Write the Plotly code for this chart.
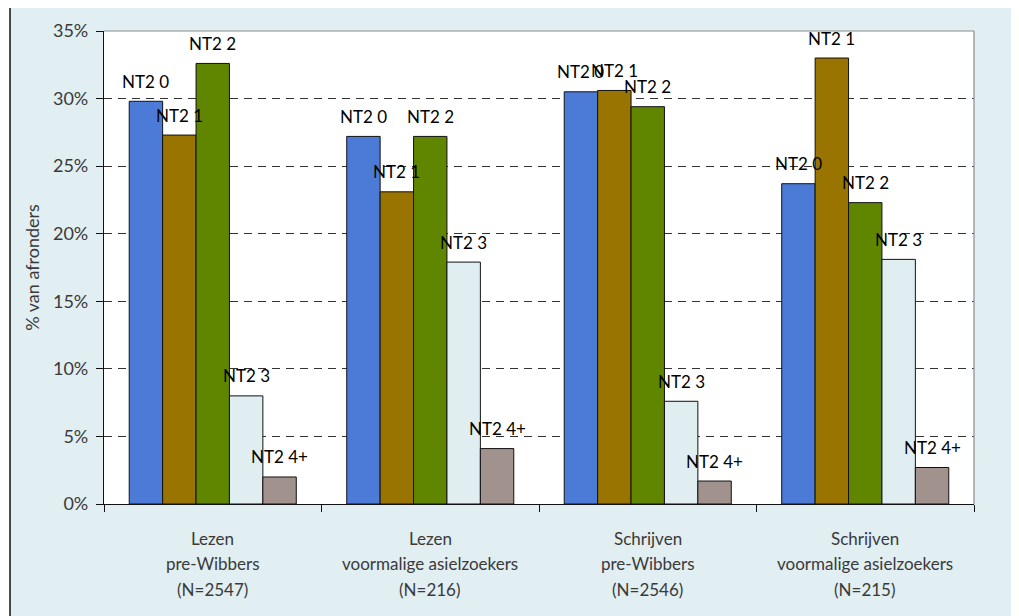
import plotly.graph_objects as go

categories = ["Lezen pre-Wibbers", "Lezen voormalige asielzoekers",
              "Schrijven pre-Wibbers", "Schrijven voormalige asielzoekers"]
cat_line1 = ["Lezen", "Lezen", "Schrijven", "Schrijven"]
cat_line2 = ["pre-Wibbers", "voormalige asielzoekers", "pre-Wibbers", "voormalige asielzoekers"]
cat_line3 = ["(N=2547)", "(N=216)", "(N=2546)", "(N=215)"]

series_names = ["NT2 0", "NT2 1", "NT2 2", "NT2 3", "NT2 4+"]
nt2_0 = [29.8, 27.2, 30.5, 23.7]
nt2_1 = [27.3, 23.1, 30.6, 33.0]
nt2_2 = [32.6, 27.2, 29.4, 22.3]
nt2_3 = [8.0, 17.9, 7.6, 18.1]
nt2_4 = [2.0, 4.1, 1.7, 2.7]
series_values = [nt2_0, nt2_1, nt2_2, nt2_3, nt2_4]
colors = ["#4b7bd6", "#9a7400", "#608600", "#e0eef2", "#a1928d"]

y_ticks = [0, 5, 10, 15, 20, 25, 30, 35]
y_ticklabels = ["0%", "5%", "10%", "15%", "20%", "25%", "30%", "35%"]

FONT = "Lato"
OFF = 8  # page body margin in the browser
W, H = 1019 - OFF, 616 - OFF
ML, MR, MT, MB = 104 - OFF, 45, 31 - OFF, 112
BARGAP = 0.232
plot_w = W - ML - MR
plot_h = H - MT - MB
bar_px = plot_w / len(categories) * (1 - BARGAP) / len(series_names)

fig = go.Figure()
for name, vals, col in zip(series_names, series_values, colors):
    fig.add_trace(go.Bar(
        x=categories, y=vals, name=name,
        marker=dict(color=col, line=dict(color="#111111", width=1)),
        hoverinfo="x+y+name",
    ))

annotations = []
n = len(series_names)
for i, (name, vals) in enumerate(zip(series_names, series_values)):
    for c, v in zip(categories, vals):
        annotations.append(dict(
            x=c, y=v, xref="x", yref="y", text=name, showarrow=False,
            xshift=(i - (n - 1) / 2) * bar_px, yshift=20,
            yanchor="middle", xanchor="center",
            font=dict(family=FONT, size=17, color="#000000"),
        ))

for c, l1, l2, l3 in zip(categories, cat_line1, cat_line2, cat_line3):
    for k, t in enumerate([l1, l2, l3]):
        annotations.append(dict(
            x=c, y=0, xref="x", yref="y", text=t, showarrow=False,
            yshift=-(34 + k * 25.5), yanchor="middle", xanchor="center",
            font=dict(family=FONT, size=17, color="#3a3a3a"),
        ))

# screen pixel -> paper coordinate helpers (layout only)
def px_x(p):
    return (p - OFF - ML) / plot_w

def px_y(p):
    return (H - MB - (p - OFF)) / plot_h

shapes = [
    dict(type="rect", xref="paper", yref="paper",
         x0=px_x(10), x1=px_x(1016), y0=px_y(640), y1=px_y(7),
         fillcolor="#e1eef2", line=dict(width=0), layer="below"),
    dict(type="rect", xref="paper", yref="paper", x0=0, x1=1, y0=0, y1=1,
         fillcolor="#ffffff", line=dict(width=0), layer="below"),
    dict(type="line", xref="paper", yref="paper",
         x0=px_x(10), x1=px_x(10), y0=px_y(640), y1=px_y(7),
         line=dict(color="#111111", width=1.5), layer="below"),
    dict(type="line", xref="paper", yref="paper",
         x0=px_x(10), x1=px_x(1016), y0=px_y(7), y1=px_y(7),
         line=dict(color="#111111", width=1.5), layer="below"),
    dict(type="line", xref="paper", yref="paper", x0=0, x1=1, y0=1, y1=1,
         line=dict(color="#8a8a8a", width=1.2)),
    dict(type="line", xref="paper", yref="paper", x0=1, x1=1, y0=0, y1=1,
         line=dict(color="#8a8a8a", width=1.2)),
]

fig.update_layout(
    width=W, height=H,
    margin=dict(l=ML, r=MR, t=MT, b=MB, autoexpand=False),
    barmode="group", bargap=BARGAP, bargroupgap=0,
    paper_bgcolor="#ffffff", plot_bgcolor="#ffffff",
    showlegend=False,
    font=dict(family=FONT, size=17, color="#3a3a3a"),
    annotations=annotations, shapes=shapes,
)
fig.update_xaxes(
    type="category", tickson="boundaries", ticks="outside", ticklen=7,
    tickcolor="#111111", tickwidth=1, showticklabels=False,
    showline=True, linecolor="#111111", linewidth=1.2,
    showgrid=False, zeroline=False,
)
fig.update_yaxes(
    range=[0, 35], tickvals=y_ticks, ticktext=y_ticklabels,
    ticks="outside", ticklen=7, tickcolor="#111111", tickwidth=1,
    showline=True, linecolor="#111111", linewidth=1.2,
    showgrid=True, gridcolor="#333333", gridwidth=1, griddash="8px,6px",
    zeroline=False,
    tickfont=dict(family=FONT, size=18, color="#3a3a3a"),
    ticklabelstandoff=4,
    title=dict(text="% van afronders", standoff=8,
               font=dict(family=FONT, size=18, color="#3a3a3a")),
)

fig.write_html("out.html")
